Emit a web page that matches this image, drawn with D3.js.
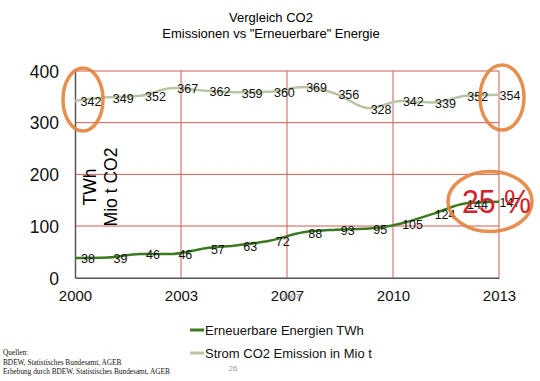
<!DOCTYPE html>
<html><head><meta charset="utf-8">
<script src="https://cdn.jsdelivr.net/npm/d3@7"></script>
<style>body{margin:0;background:#fff}svg{display:block;font-family:"Liberation Sans",Arial,sans-serif}</style>
</head><body><svg id="c" width="540" height="381"></svg>
<script>
const years = [2000,2001,2002,2003,2004,2005,2006,2007,2008,2009,2010,2011,2012,2013];
const renewables = [38,39,46,46,57,63,72,88,93,95,105,124,144,147];
const co2 = [342,349,352,367,362,359,360,369,356,328,342,339,352,354];
const xTickLabels = ["2000","2003","2007","2010","2013"];
const yTicks = [0,100,200,300,400];
const seriesNames = ["Erneuerbare Energien TWh","Strom CO2 Emission in Mio t"];
const sources = ["Quellen:","BDEW, Statistisches Bundesamt, AGEB","Erhebung durch BDEW, Statistisches Bundesamt, AGEB"];

const svg = d3.select("#c");
const L=75,R=499,T=71,B=277.7;
const x = d3.scalePoint().domain(years).range([L,R]);
const xt = d3.scalePoint().domain(xTickLabels).range([L,R]);
const y = d3.scaleLinear().domain([0,400]).range([B,T]);
const grid="#cf5a52";
const sans="Liberation Sans, Arial, sans-serif";

// title
svg.append("text").attr("x",271).attr("y",22).attr("text-anchor","middle").attr("font-size",13).text("Vergleich CO2");
svg.append("text").attr("x",271).attr("y",38).attr("text-anchor","middle").attr("font-size",13).text('Emissionen vs "Erneuerbare" Energie');

// grid
svg.append("g").selectAll("line").data(yTicks.filter(d=>d>0)).join("line")
  .attr("x1",L).attr("x2",R).attr("y1",d=>y(d)).attr("y2",d=>y(d)).attr("stroke",grid).attr("stroke-width",1);
svg.append("g").selectAll("line").data(xTickLabels.slice(1)).join("line")
  .attr("x1",d=>xt(d)).attr("x2",d=>xt(d)).attr("y1",T).attr("y2",B).attr("stroke",grid).attr("stroke-width",1);

// axes
const ya = svg.append("g").attr("transform",`translate(${L},0)`).call(d3.axisLeft(y).tickValues(yTicks).tickSize(0).tickPadding(16));
ya.select(".domain").attr("stroke","#555").attr("stroke-width",1.5);
ya.selectAll("text").attr("font-size",17.5).attr("font-family",sans).attr("fill","#111").attr("dy","0.36em");
const xa = svg.append("g").attr("transform",`translate(0,${B})`).call(d3.axisBottom(xt).tickSize(0).tickPadding(13));
xa.select(".domain").attr("stroke","#555").attr("stroke-width",1.5);
xa.selectAll("text").attr("font-size",15).attr("font-family",sans).attr("fill","#111");
svg.append("text").attr("x",291).attr("y",299).attr("text-anchor","middle").attr("font-size",8).attr("fill","#888").text("2007");

// y title
svg.append("text").attr("transform","translate(96,187) rotate(-90)").attr("text-anchor","middle").attr("font-size",17.5).text("TWh");
svg.append("text").attr("transform","translate(117,187) rotate(-90)").attr("text-anchor","middle").attr("font-size",17.5).text("Mio t CO2");

// lines
const line = d3.line().x((d,i)=>x(years[i])).y(d=>y(d)).curve(d3.curveMonotoneX);
svg.append("path").datum(co2).attr("d",line).attr("fill","none").attr("stroke","#b8c6a6").attr("stroke-width",2.5);
svg.append("path").datum(renewables).attr("d",line).attr("fill","none").attr("stroke","#3b7a20").attr("stroke-width",2.5);

// labels
svg.append("g").selectAll("text").data(co2).join("text")
  .attr("x",(d,i)=>x(years[i])+16-5*i/13).attr("y",d=>y(d)+1).attr("dy","0.35em").attr("text-anchor","middle")
  .attr("font-size",12.5).attr("fill","#111").text(d=>d);
svg.append("g").selectAll("text").data(renewables).join("text")
  .attr("x",(d,i)=>x(years[i])+13-2*i/13).attr("y",d=>y(d)+1).attr("dy","0.35em").attr("text-anchor","middle")
  .attr("font-size",12.5).attr("fill","#111").text(d=>d);

// annotations
const orange="#e3843c";
[[83,99.5,20,31.5],[502,97.5,22,32.5],[490,201.5,42,30]].forEach(e=>{
  svg.append("ellipse").attr("cx",e[0]).attr("cy",e[1]).attr("rx",e[2]).attr("ry",e[3])
    .attr("fill","none").attr("stroke",orange).attr("stroke-width",3.5).attr("opacity",0.9);
});
svg.append("text").attr("x",462).attr("y",213).attr("font-size",34).attr("textLength",69).attr("lengthAdjust","spacingAndGlyphs")
  .attr("fill","#d3232b").text("25 %");

// legend
const lg = svg.append("g");
const lcol=["#3b7a20","#b8c6a6"];
seriesNames.forEach((n,i)=>{
  const yy=330+i*23;
  lg.append("line").attr("x1",190).attr("x2",204).attr("y1",yy).attr("y2",yy).attr("stroke",lcol[i]).attr("stroke-width",3);
  lg.append("text").attr("x",205).attr("y",yy).attr("dy","0.36em").attr("font-size",13).attr("fill","#111").text(n);
});

// footer
svg.append("g").selectAll("text").data(sources).join("text")
  .attr("x",3).attr("y",(d,i)=>355+i*9.5).attr("font-size",7.3).style("font-family","'Liberation Serif','Times New Roman',serif").attr("fill","#111").text(d=>d);
svg.append("text").attr("x",233).attr("y",371).attr("text-anchor","middle").attr("font-size",8).attr("fill","#999").text("26");
</script></body></html>
